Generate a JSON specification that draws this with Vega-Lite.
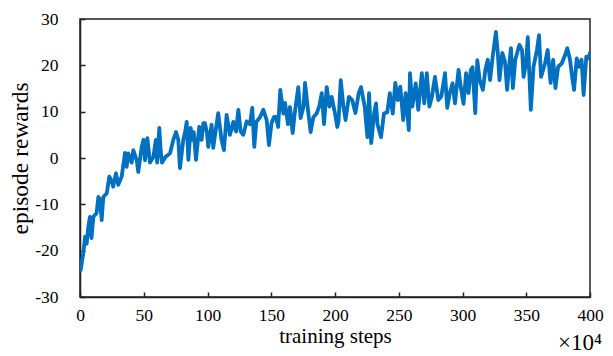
{
  "$schema": "https://vega.github.io/schema/vega-lite/v6.json",
  "width": 510,
  "height": 278,
  "autosize": "none",
  "padding": {"left": 80, "top": 19, "right": 23, "bottom": 59},
  "background": "white",
  "config": {
    "view": {"stroke": "#222", "strokeWidth": 1.5},
    "font": "Liberation Serif"
  },
  "layer": [
    {
      "data": {"values": [
        {"step": 0, "reward": -22.5},
        {"step": 0.5, "reward": -24.2},
        {"step": 2.6, "reward": -20.5},
        {"step": 4, "reward": -17},
        {"step": 5.2, "reward": -18.5},
        {"step": 6.5, "reward": -14.9},
        {"step": 7.8, "reward": -12.7},
        {"step": 9, "reward": -17.3},
        {"step": 10.5, "reward": -12.7},
        {"step": 13, "reward": -11.9},
        {"step": 14.4, "reward": -8.4},
        {"step": 15.7, "reward": -9},
        {"step": 17, "reward": -13.4},
        {"step": 18.3, "reward": -8.4},
        {"step": 21, "reward": -7.6},
        {"step": 23, "reward": -4},
        {"step": 24.8, "reward": -5},
        {"step": 26, "reward": -6.2},
        {"step": 28.2, "reward": -3.3},
        {"step": 30, "reward": -5.8},
        {"step": 32.7, "reward": -4},
        {"step": 35.3, "reward": 1.1},
        {"step": 36.6, "reward": -1.9},
        {"step": 37.8, "reward": 1},
        {"step": 40.5, "reward": -1},
        {"step": 41.8, "reward": 1.7},
        {"step": 44.5, "reward": -0.5},
        {"step": 45.7, "reward": -3},
        {"step": 48.4, "reward": 2.4},
        {"step": 49.7, "reward": 3.9},
        {"step": 51, "reward": -0.5},
        {"step": 52.8, "reward": 4.3},
        {"step": 54.9, "reward": -1},
        {"step": 57.5, "reward": 0.2},
        {"step": 59.5, "reward": 3.9},
        {"step": 60.5, "reward": -1},
        {"step": 62.2, "reward": 6.5},
        {"step": 63.3, "reward": 1.5},
        {"step": 64.3, "reward": -1},
        {"step": 67, "reward": 0.2},
        {"step": 70.6, "reward": 1},
        {"step": 73.2, "reward": 3.9},
        {"step": 75.3, "reward": 5.6},
        {"step": 77.1, "reward": 3.9},
        {"step": 78.4, "reward": -2.2},
        {"step": 81, "reward": 3.9},
        {"step": 82.3, "reward": 5.4},
        {"step": 83.7, "reward": 7.8},
        {"step": 85, "reward": -0.4},
        {"step": 86.8, "reward": 6.5},
        {"step": 88.2, "reward": 3.9},
        {"step": 89.2, "reward": 5.6},
        {"step": 91, "reward": -0.4},
        {"step": 93.5, "reward": 6.7},
        {"step": 95.4, "reward": 3.9},
        {"step": 96.7, "reward": 7.5},
        {"step": 98, "reward": 7.5},
        {"step": 99.5, "reward": 5.6},
        {"step": 100.6, "reward": 2.4},
        {"step": 103.2, "reward": 7.2},
        {"step": 104.5, "reward": 2.2},
        {"step": 108.4, "reward": 9.7},
        {"step": 111, "reward": 3.9},
        {"step": 112.9, "reward": 1.7},
        {"step": 115, "reward": 9.3},
        {"step": 117.6, "reward": 5.0},
        {"step": 120.3, "reward": 7.8},
        {"step": 122.4, "reward": 5.7},
        {"step": 124.2, "reward": 10.4},
        {"step": 126, "reward": 5.7},
        {"step": 128.1, "reward": 5},
        {"step": 130.7, "reward": 7.9},
        {"step": 133.3, "reward": 7.3},
        {"step": 135.1, "reward": 10.8},
        {"step": 136.7, "reward": 2.4},
        {"step": 138.3, "reward": 7.8},
        {"step": 141.2, "reward": 8.8},
        {"step": 143.8, "reward": 10.4},
        {"step": 146.4, "reward": 8.2},
        {"step": 148.2, "reward": 2.8},
        {"step": 150.2, "reward": 7.5},
        {"step": 152, "reward": 8.8},
        {"step": 153.6, "reward": 8.9},
        {"step": 155.4, "reward": 6.7},
        {"step": 157.1, "reward": 14.7},
        {"step": 159.5, "reward": 9.6},
        {"step": 160.8, "reward": 11.9},
        {"step": 163.1, "reward": 7.3},
        {"step": 164.7, "reward": 11},
        {"step": 166.8, "reward": 5.4},
        {"step": 168.4, "reward": 9.6},
        {"step": 171.2, "reward": 15.3},
        {"step": 173, "reward": 8.6},
        {"step": 175.3, "reward": 11.1},
        {"step": 176.5, "reward": 16.2},
        {"step": 179, "reward": 9.9},
        {"step": 180.9, "reward": 5.6},
        {"step": 183, "reward": 8.8},
        {"step": 185.6, "reward": 9.6},
        {"step": 187.6, "reward": 11.1},
        {"step": 189.6, "reward": 14},
        {"step": 191.4, "reward": 7.3},
        {"step": 193.5, "reward": 15.3},
        {"step": 195.6, "reward": 11.1},
        {"step": 197.4, "reward": 13.2},
        {"step": 200, "reward": 9.6},
        {"step": 201.8, "reward": 6.7},
        {"step": 202.8, "reward": 8},
        {"step": 204.5, "reward": 16.8},
        {"step": 206.6, "reward": 11.1},
        {"step": 208.3, "reward": 8.2},
        {"step": 210.9, "reward": 13.2},
        {"step": 213.5, "reward": 12.5},
        {"step": 216, "reward": 9.7},
        {"step": 218.6, "reward": 14},
        {"step": 220.4, "reward": 15.3},
        {"step": 223.3, "reward": 11.1},
        {"step": 225.4, "reward": 4.5},
        {"step": 226.7, "reward": 14},
        {"step": 228.4, "reward": 3.2},
        {"step": 230.8, "reward": 9.9},
        {"step": 232.2, "reward": 11.8},
        {"step": 233.3, "reward": 7.3},
        {"step": 236.1, "reward": 4.5},
        {"step": 238.4, "reward": 9.6},
        {"step": 241, "reward": 9.9},
        {"step": 243, "reward": 14},
        {"step": 245.3, "reward": 9.6},
        {"step": 247.3, "reward": 16.2},
        {"step": 249.2, "reward": 12.5},
        {"step": 251.2, "reward": 15.4},
        {"step": 253.5, "reward": 8.2},
        {"step": 255.4, "reward": 14},
        {"step": 257.9, "reward": 6},
        {"step": 258.8, "reward": 18.3},
        {"step": 260.7, "reward": 11.1},
        {"step": 263.3, "reward": 16.1},
        {"step": 265.3, "reward": 10.4},
        {"step": 268.1, "reward": 18.3},
        {"step": 270, "reward": 11.8},
        {"step": 272, "reward": 18.3},
        {"step": 274, "reward": 11.1},
        {"step": 276, "reward": 13.2},
        {"step": 278.4, "reward": 17.5},
        {"step": 281, "reward": 12.5},
        {"step": 283.3, "reward": 13.2},
        {"step": 286.3, "reward": 18.3},
        {"step": 288, "reward": 10.8},
        {"step": 290, "reward": 14},
        {"step": 292.2, "reward": 16.1},
        {"step": 294.1, "reward": 11.8},
        {"step": 296.9, "reward": 19},
        {"step": 298.6, "reward": 15.4},
        {"step": 300.8, "reward": 11.7},
        {"step": 302.8, "reward": 18.3},
        {"step": 304.7, "reward": 14},
        {"step": 306.5, "reward": 19},
        {"step": 307.9, "reward": 19.6},
        {"step": 310, "reward": 9.7},
        {"step": 311.6, "reward": 21.1},
        {"step": 313.5, "reward": 16.8},
        {"step": 316, "reward": 14.7},
        {"step": 317.9, "reward": 19},
        {"step": 319.8, "reward": 21.2},
        {"step": 321.6, "reward": 16.8},
        {"step": 323.7, "reward": 21.9},
        {"step": 326.2, "reward": 27.2},
        {"step": 327.7, "reward": 22.6},
        {"step": 329, "reward": 16.8},
        {"step": 331.2, "reward": 22.7},
        {"step": 333.3, "reward": 20.8},
        {"step": 335, "reward": 14.7},
        {"step": 336.5, "reward": 19.7},
        {"step": 338, "reward": 23.7},
        {"step": 339.5, "reward": 15.1},
        {"step": 341.4, "reward": 21.2},
        {"step": 344.6, "reward": 24.4},
        {"step": 346.7, "reward": 23.3},
        {"step": 347.9, "reward": 17.5},
        {"step": 349.8, "reward": 20.4},
        {"step": 351.2, "reward": 26.1},
        {"step": 353.6, "reward": 10.4},
        {"step": 355.7, "reward": 19.7},
        {"step": 358.4, "reward": 23.3},
        {"step": 360, "reward": 26.5},
        {"step": 361.6, "reward": 17.5},
        {"step": 364.7, "reward": 20.4},
        {"step": 366.8, "reward": 23.3},
        {"step": 369.1, "reward": 16.2},
        {"step": 371.1, "reward": 21.2},
        {"step": 372.9, "reward": 15.1},
        {"step": 375, "reward": 19.7},
        {"step": 377.8, "reward": 20.4},
        {"step": 380, "reward": 21.9},
        {"step": 382.2, "reward": 23.7},
        {"step": 384.3, "reward": 21.2},
        {"step": 386, "reward": 17.5},
        {"step": 387.5, "reward": 14.7},
        {"step": 389.6, "reward": 21.5},
        {"step": 391.4, "reward": 19.7},
        {"step": 393.4, "reward": 21.2},
        {"step": 395, "reward": 13.6},
        {"step": 397.1, "reward": 21.9},
        {"step": 398.9, "reward": 21.5},
        {"step": 400, "reward": 22.7}
      ]},
      "mark": {"type": "line", "color": "#0070C0", "strokeWidth": 3.8, "strokeJoin": "round", "strokeCap": "round", "clip": true},
      "encoding": {
        "x": {
          "field": "step", "type": "quantitative",
          "scale": {"domain": [0, 400], "nice": false, "zero": false},
          "axis": {
            "values": [0, 50, 100, 150, 200, 250, 300, 350, 400],
            "title": "training steps",
            "titleFont": "Liberation Serif", "titleFontSize": 21, "titleFontWeight": "normal", "titleColor": "#000",
            "titlePadding": 2,
            "labelFont": "Liberation Serif", "labelFontSize": 17.5, "labelColor": "#000",
            "labelPadding": 14,
            "tickSize": -5, "tickColor": "#222", "tickWidth": 1.5,
            "domainColor": "#222", "domainWidth": 1.5,
            "grid": false,
            "labelFlush": false
          }
        },
        "y": {
          "field": "reward", "type": "quantitative",
          "scale": {"domain": [-30, 30], "nice": false, "zero": false},
          "axis": {
            "values": [-30, -20, -10, 0, 10, 20, 30],
            "labelExpr": "toString(datum.value)",
            "title": "episode rewards",
            "titleFont": "Liberation Serif", "titleFontSize": 23.5, "titleFontWeight": "normal", "titleColor": "#000",
            "titlePadding": 2,
            "labelFont": "Liberation Serif", "labelFontSize": 17.5, "labelColor": "#000",
            "labelPadding": 27,
            "tickSize": -5, "tickColor": "#222", "tickWidth": 1.5,
            "domainColor": "#222", "domainWidth": 1.5,
            "grid": false
          }
        }
      }
    },
    {
      "data": {"values": [{"label": "×10⁴", "step": 400, "reward": -30}]},
      "mark": {"type": "text", "font": "Liberation Serif", "fontSize": 23, "fontWeight": "normal", "align": "center", "baseline": "middle", "dy": 46, "dx": -10, "color": "#000"},
      "encoding": {
        "text": {"field": "label"},
        "x": {"field": "step", "type": "quantitative"},
        "y": {"field": "reward", "type": "quantitative"}
      }
    }
  ]
}
